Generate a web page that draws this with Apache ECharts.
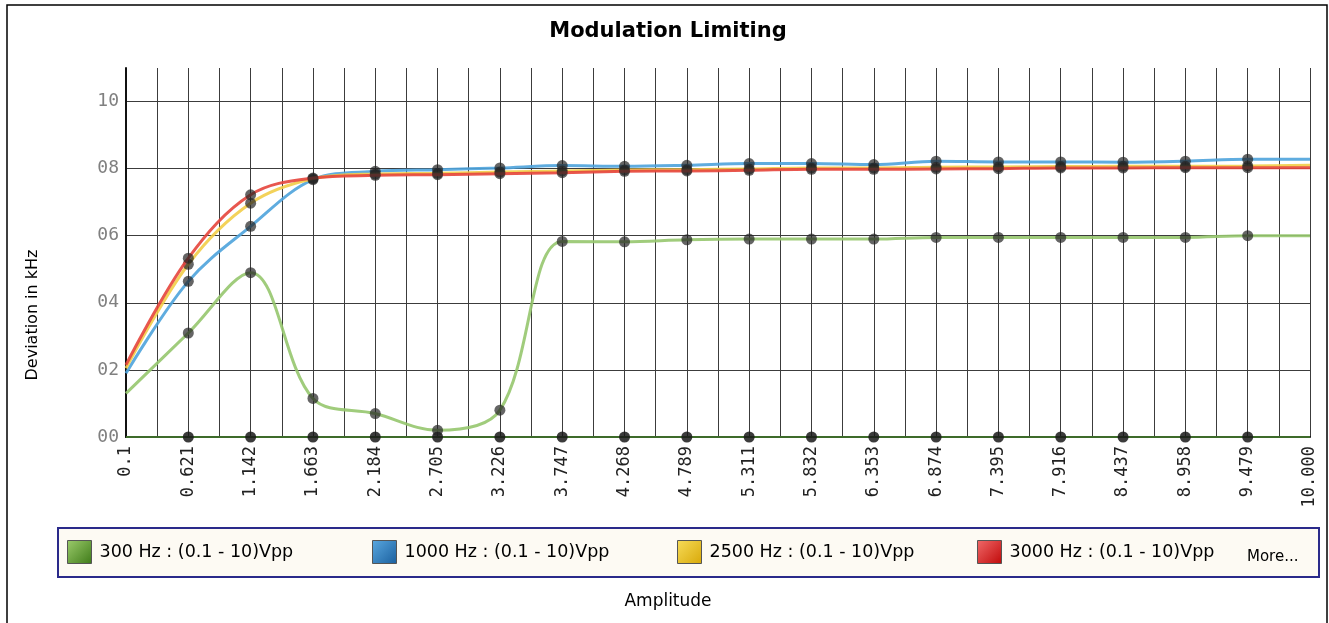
<!DOCTYPE html>
<html>
<head>
<meta charset="utf-8">
<script src="https://cdn.jsdelivr.net/npm/echarts@6/dist/echarts.min.js"></script>
<style>
html,body{margin:0;padding:0;background:#fff;}
#chart{width:1329px;height:623px;}
</style>
</head>
<body>
<div id="chart"></div>
<script>
// Amplitude tick labels (x categories)
const xLabels = ['0.1','0.621','1.142','1.663','2.184','2.705','3.226','3.747','4.268','4.789','5.311','5.832','6.353','6.874','7.395','7.916','8.437','8.958','9.479','10.000'];
// Deviation tick labels
const yLabels = ['00','02','04','06','08','10'];

const seriesNames = ['300 Hz : (0.1 - 10)Vpp','1000 Hz : (0.1 - 10)Vpp','2500 Hz : (0.1 - 10)Vpp','3000 Hz : (0.1 - 10)Vpp'];
const hz300  = [1.3, 3.1, 4.9, 1.15, 0.7, 0.2, 0.8, 5.83, 5.82, 5.88, 5.9, 5.9, 5.9, 5.95, 5.95, 5.95, 5.95, 5.95, 6.0, 6.0];
const hz1000 = [1.9, 4.64, 6.28, 7.67, 7.92, 7.97, 8.02, 8.09, 8.07, 8.1, 8.15, 8.15, 8.12, 8.22, 8.2, 8.2, 8.19, 8.22, 8.28, 8.28];
const hz2500 = [2.05, 5.15, 6.97, 7.7, 7.84, 7.86, 7.9, 7.93, 7.96, 7.97, 7.99, 8.02, 8.02, 8.04, 8.05, 8.06, 8.07, 8.07, 8.08, 8.1];
const hz3000 = [2.15, 5.33, 7.22, 7.72, 7.8, 7.82, 7.85, 7.88, 7.92, 7.93, 7.95, 7.98, 7.98, 7.99, 8.0, 8.02, 8.02, 8.03, 8.03, 8.03];
const more   = [0, 0, 0, 0, 0, 0, 0, 0, 0, 0, 0, 0, 0, 0, 0, 0, 0, 0, 0, 0];

const lineColors = ['#96c76e','#4ea3dc','#f2cd48','#e6453c'];
const legendGrads = [['#9ccc6c','#3e7a18'],['#5aa8e0','#1a5f9e'],['#f7dc5a','#d8a808'],['#f06a6a','#c00808']];

function pts(arr){
  return arr.map((v,i)=> (i===0 || i===arr.length-1) ? {value:[i,v], symbol:'none'} : [i,v]);
}
function mkSeries(name, arr, color, z){
  return {
    name: name, type:'line', data: pts(arr), smooth: 0.35,
    lineStyle:{color: color, width: 3, opacity: 0.9},
    itemStyle:{color:'rgba(35,35,35,0.7)'},
    symbol:'circle', symbolSize: 11, z: z, animation:false,
    emphasis:{disabled:true}
  };
}
const chart = echarts.init(document.getElementById('chart'), null, {renderer:'canvas'});
const dataArr = [hz300, hz1000, hz2500, hz3000];
const series = dataArr.map((a,i)=> mkSeries(seriesNames[i], a, lineColors[i], 3+i));
series.unshift({
  name:'More', type:'line', data: pts(more), smooth:false,
  lineStyle:{color:'#3d6b2a', width:2},
  itemStyle:{color:'rgba(25,25,25,0.85)'},
  symbol:'circle', symbolSize: 11, z: 2, animation:false
});

const legends = seriesNames.map((n,i)=>({
  data:[{name:n, itemStyle:{
    color:{type:'linear',x:0,y:0,x2:1,y2:1,colorStops:[{offset:0,color:legendGrads[i][0]},{offset:1,color:legendGrads[i][1]}]},
    borderColor:'#555', borderWidth:1}}],
  left: [62,367,672,972][i], top: 535, icon:'rect', itemWidth:24, itemHeight:23,
  selectedMode:false,
  textStyle:{fontFamily:'DejaVu Sans', fontSize:17.5, color:'#000', padding:[0,0,0,3]}
}));

const option = {
  backgroundColor:'#fff',
  animation:false,
  legend: legends,
  grid:{left:126, right:19, top:68, bottom:186, containLabel:false},
  xAxis:{
    type:'value', min:0, max:xLabels.length-1, interval:1,
    axisLine:{show:true, onZero:false, lineStyle:{color:'#111', width:2}},
    axisTick:{show:false},
    minorTick:{show:false, splitNumber:2},
    minorSplitLine:{show:true, lineStyle:{color:'#3c3c3c', width:1}},
    splitLine:{show:true, lineStyle:{color:'#3c3c3c', width:1}},
    axisLabel:{rotate:90, margin:9, fontFamily:'DejaVu Sans Mono', fontSize:17, color:'#222',
      formatter:(v)=> xLabels[Math.round(v)] || ''}
  },
  yAxis:{
    type:'value', min:0, max:11, interval:2,
    axisLine:{show:true, lineStyle:{color:'#111', width:2}},
    axisTick:{show:false},
    splitLine:{show:true, lineStyle:{color:['#3c3c3c','#3c3c3c','#3c3c3c','#3c3c3c','#3c3c3c','#3c3c3c','rgba(0,0,0,0)'], width:1}},
    axisLabel:{margin:7, fontFamily:'DejaVu Sans Mono', fontSize:18, color:'#808080', showMaxLabel:false,
      formatter:(v)=> v>10 ? '' : (yLabels[Math.round(v/2)] || '')}
  },
  graphic:[
    {type:'rect', shape:{x:7, y:5, width:1320, height:640}, style:{fill:'none', stroke:'#000', lineWidth:1.5}, z:-10},
    {type:'rect', shape:{x:58, y:528, width:1261, height:49}, style:{fill:'#fdfaf3', stroke:'#2a2a8a', lineWidth:2}, z:-5},
    {type:'text', x:668, y:32, style:{text:'Modulation Limiting', font:'bold 21px "DejaVu Sans"', fill:'#000', textAlign:'center', textVerticalAlign:'middle'}},
    {type:'text', x:33, y:315, rotation:Math.PI/2, style:{text:'Deviation in kHz', font:'16px "DejaVu Sans"', fill:'#000', textAlign:'center', textVerticalAlign:'middle'}},
    {type:'text', x:668, y:602, style:{text:'Amplitude', font:'17px "DejaVu Sans"', fill:'#000', textAlign:'center', textVerticalAlign:'middle'}},
    {type:'text', x:1247, y:557, style:{text:'More...', font:'15px "DejaVu Sans"', fill:'#000', textAlign:'left', textVerticalAlign:'middle'}}
  ],
  series: series
};
chart.setOption(option);
</script>
</body>
</html>
